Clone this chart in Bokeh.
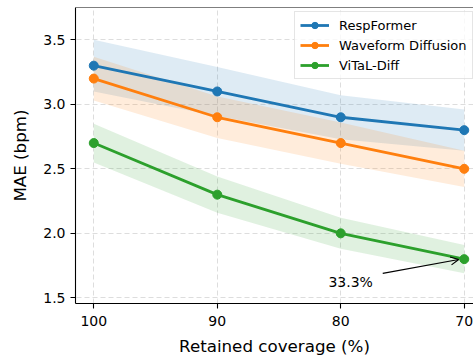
from bokeh.plotting import figure
from bokeh.models import (Range1d, Span, Legend, LegendItem, Label, Arrow, OpenHead,
                          FixedTicker, PrintfTickFormatter)
from bokeh.embed import file_html
from bokeh.resources import INLINE

# ---- data ----
coverage = [100, 90, 80, 70]
respformer = [3.3, 3.1, 2.9, 2.8]
waveform = [3.2, 2.9, 2.7, 2.5]
vital = [2.7, 2.3, 2.0, 1.8]
resp_err = [0.20, 0.19, 0.17, 0.16]
wave_err = [0.17, 0.16, 0.16, 0.14]
vital_err = [0.15, 0.14, 0.12, 0.11]
names = ["RespFormer", "Waveform Diffusion", "ViTaL-Diff"]
colors = ["#1f77b4", "#ff7f0e", "#2ca02c"]
x_ticks = [100, 90, 80, 70]
y_ticks = [1.5, 2.0, 2.5, 3.0, 3.5]
annot_text = "33.3%"
annot_xy = (81.0, 1.62)
arrow_start = (76.6, 1.69)
arrow_end = (70.45, 1.797)

FONT = "DejaVu Sans"
x_start, x_end = 101.48, 69.25
y_start, y_end = 1.456, 3.751

p = figure(width=473, height=358, output_backend="svg", toolbar_location=None,
           x_range=Range1d(x_start, x_end), y_range=Range1d(y_start, y_end),
           min_border_left=75, min_border_right=0, min_border_top=7, min_border_bottom=55)
p.outline_line_color = None
p.background_fill_color = "white"
p.border_fill_color = "white"

series = [respformer, waveform, vital]
errs = [resp_err, wave_err, vital_err]

for ys, er, c in zip(series, errs, colors):
    lo = [y - e for y, e in zip(ys, er)]
    hi = [y + e for y, e in zip(ys, er)]
    p.varea(x=coverage, y1=lo, y2=hi, fill_color=c, fill_alpha=0.15)

items = []
for ys, c, n in zip(series, colors, names):
    r1 = p.line(coverage, ys, line_color=c, line_width=2.8)
    r2 = p.scatter(coverage, ys, size=9, fill_color=c, line_color=c)
    items.append(LegendItem(label=n, renderers=[r1, r2]))

legend = Legend(items=items, location=(219, 224), glyph_width=29, glyph_height=16,
                label_height=16, label_standoff=10, spacing=4, padding=5, margin=0,
                label_text_font=FONT, label_text_font_size="13px", label_text_color="black",
                border_line_color="#cccccc", border_line_width=1,
                background_fill_color="white", background_fill_alpha=0.8)
p.add_layout(legend, "center")

# annotation
p.add_layout(Label(x=annot_xy[0], y=annot_xy[1], text=annot_text, text_font=FONT,
                   text_font_size="14px", text_color="black",
                   text_align="left", text_baseline="alphabetic"))
p.add_layout(Arrow(end=OpenHead(size=8, line_width=1.2, line_color="black"),
                   x_start=arrow_start[0], y_start=arrow_start[1],
                   x_end=arrow_end[0], y_end=arrow_end[1],
                   line_color="black", line_width=1.2))

# top spine
p.add_layout(Span(location=y_end, dimension="width", line_color="black", line_width=1.1))

# axes
p.xaxis.ticker = FixedTicker(ticks=x_ticks)
p.yaxis.ticker = FixedTicker(ticks=y_ticks)
p.yaxis.formatter = PrintfTickFormatter(format="%.1f")
p.xaxis.axis_label = "Retained coverage (%)"
p.yaxis.axis_label = "MAE (bpm)"
for ax in (p.xaxis[0], p.yaxis[0]):
    ax.axis_line_color = "black"
    ax.axis_line_width = 1.1
    ax.major_tick_line_color = "black"
    ax.major_tick_line_width = 1.1
    ax.major_tick_out = 5
    ax.major_tick_in = 0
    ax.minor_tick_line_color = None
    ax.major_label_text_font = FONT
    ax.major_label_text_font_size = "14px"
    ax.major_label_text_color = "black"
    ax.axis_label_text_font = FONT
    ax.axis_label_text_font_size = "16.7px"
    ax.axis_label_text_font_style = "normal"
    ax.axis_label_text_color = "black"
p.xaxis.major_label_standoff = 7
p.xaxis.axis_label_standoff = 7
p.yaxis.major_label_standoff = 5
p.yaxis.axis_label_standoff = 10

for g in (p.xgrid[0], p.ygrid[0]):
    g.grid_line_color = "#dddddd"
    g.grid_line_dash = "5 3"
    g.grid_line_width = 1
p.xgrid.ticker = FixedTicker(ticks=x_ticks)
p.ygrid.ticker = FixedTicker(ticks=y_ticks)

open("out.html", "w").write(file_html(p, INLINE))
